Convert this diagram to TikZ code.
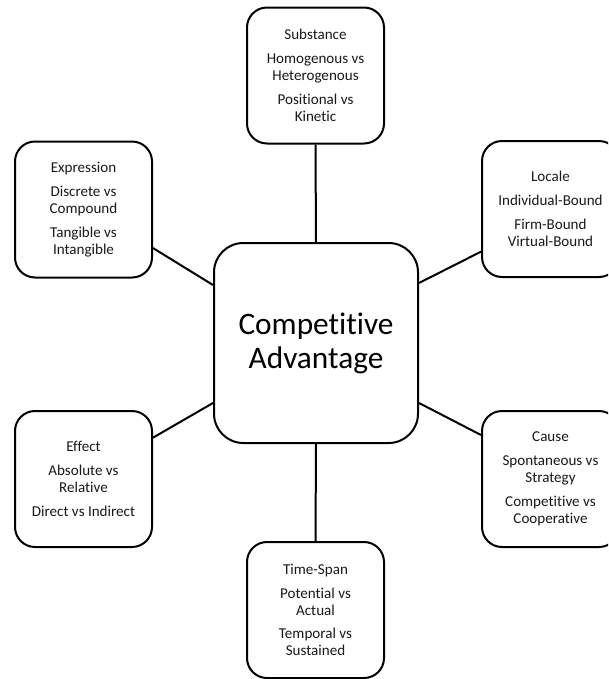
\documentclass[tikz,border=0pt]{standalone}
\usepackage{fontspec}
\setmainfont{Carlito}[Ligatures=NoCommon]
\begin{document}
\begin{tikzpicture}[x=0.75pt,y=-0.75pt,
  small/.style={draw=black, line width=1.5pt, rounded corners=15pt, fill=white,
    minimum width=102.75pt, minimum height=102pt, inner sep=0pt, align=center,
    font=\fontsize{11.3}{12.8}\selectfont, text=black!90},
  big/.style={draw=black, line width=1.5pt, rounded corners=22pt, fill=white,
    minimum width=153pt, minimum height=150pt, inner sep=0pt, align=center,
    font=\fontsize{23.5}{25.5}\selectfont},
  link/.style={draw=black, line width=1.5pt}]
\useasboundingbox (0,0) rectangle (608,679);
\clip (0,0) rectangle (608,679);
\fill[white] (0,0) rectangle (608,679);

\node[big] (ca) at (316,343) {Competitive\\Advantage};

\node[small] (sub) at (315.5,75.5) {Substance\\[5pt]Homogenous vs\\Heterogenous\\[5pt]Positional vs\\Kinetic};
\node[small] (expr) at (83.5,209.5) {Expression\\[5pt]Discrete vs\\Compound\\[5pt]Tangible vs\\Intangible};
\node[small] (loc) at (550.5,209) {Locale\\[5pt]Individual-Bound\\[5pt]Firm-Bound\\Virtual-Bound};
\node[small] (eff) at (83.5,479) {Effect\\[5pt]Absolute vs\\Relative\\[5pt]Direct vs Indirect};
\node[small] (cause) at (550.5,479) {Cause\\[5pt]Spontaneous vs\\Strategy\\[5pt]Competitive vs\\Cooperative};
\node[small] (time) at (315.5,610) {Time-Span\\[5pt]Potential vs\\Actual\\[5pt]Temporal vs\\Sustained};

\draw[link] (sub.south) -- (ca.north);
\draw[link] (ca.south) -- (time.north);
\draw[link] ([yshift=-28.9pt]expr.east) -- ([yshift=43.5pt]ca.west);
\draw[link] ([yshift=-32pt]loc.west) -- ([yshift=45pt]ca.east);
\draw[link] ([yshift=31pt]eff.east) -- ([yshift=-45pt]ca.west);
\draw[link] ([yshift=33pt]cause.west) -- ([yshift=-45pt]ca.east);
\end{tikzpicture}
\end{document}
